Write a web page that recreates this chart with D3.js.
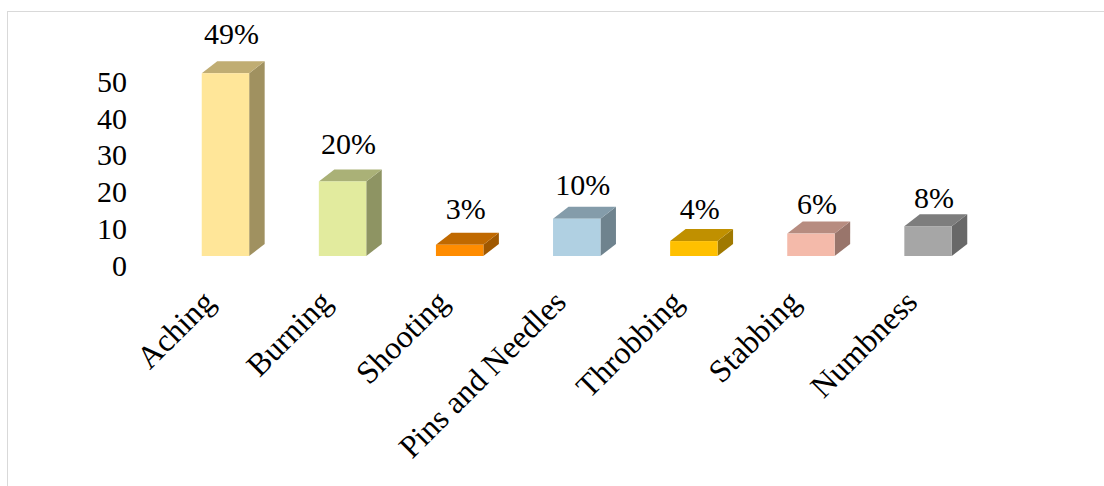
<!DOCTYPE html>
<html>
<head>
<meta charset="utf-8">
<script src="https://cdn.jsdelivr.net/npm/d3@7"></script>
<style>
  html, body { margin: 0; padding: 0; background: #ffffff; }
  svg { display: block; }
  text { font-family: "Times New Roman", "Liberation Serif", serif; fill: #000; }
</style>
</head>
<body>
<div id="chart"></div>
<script>
// Pain types and share of respondents (%)
const categories = ["Aching", "Burning", "Shooting", "Pins and Needles", "Throbbing", "Stabbing", "Numbness"];
const values = [49, 20, 3, 10, 4, 6, 8];
const barColors = ["#FFE699", "#E2EB9E", "#FF8C00", "#B0D0E2", "#FFC000", "#F4BAAA", "#A6A6A6"];
const yTicks = [0, 10, 20, 30, 40, 50];

const W = 1104, H = 486;
const depthX = 15.5, depthY = 12;   // 3D extrusion offsets

const svg = d3.select("#chart").append("svg")
  .attr("width", W).attr("height", H);

// chart frame
svg.append("rect")
  .attr("x", 7.5).attr("y", 11.5)
  .attr("width", W + 20).attr("height", H + 20)
  .attr("fill", "none").attr("stroke", "#d9d9d9").attr("stroke-width", 1);

const x = d3.scaleBand()
  .domain(categories)
  .range([166.9, 986.6])
  .paddingInner(0.595)
  .paddingOuter(0.2975);

// bar heights (front face)
const y = d3.scaleLinear().domain([0, 50]).range([256, 69.5]);
// value axis labels sit on the back wall
const yAxisScale = d3.scaleLinear().domain([0, 50]).range([265, 81]);

const axis = svg.append("g")
  .attr("transform", "translate(127,0)")
  .call(d3.axisLeft(yAxisScale).tickValues(yTicks).tickSize(0).tickPadding(0));
axis.select(".domain").remove();
axis.selectAll("text")
  .attr("font-size", 30)
  .attr("font-family", "'Times New Roman', 'Liberation Serif', serif")
  .attr("fill", "#000")
  .attr("dy", "0.34em");

const data = categories.map((c, i) => ({ c, v: values[i], color: barColors[i], i }));

const bars = svg.append("g").selectAll("g").data(data).join("g");

// side face
bars.append("path")
  .attr("fill", d => d3.rgb(d.color).darker(1.3))
  .attr("d", d => {
    const x1 = x(d.c) + x.bandwidth(), yt = y(d.v), yb = y(0);
    return `M${x1},${yt}L${x1 + depthX},${yt - depthY}L${x1 + depthX},${yb - depthY}L${x1},${yb}Z`;
  });

// top face
bars.append("path")
  .attr("fill", d => d3.rgb(d.color).darker(0.8))
  .attr("d", d => {
    const x0 = x(d.c), x1 = x0 + x.bandwidth(), yt = y(d.v);
    return `M${x0},${yt}L${x0 + depthX},${yt - depthY}L${x1 + depthX},${yt - depthY}L${x1},${yt}Z`;
  });

// front face
bars.append("rect")
  .attr("x", d => x(d.c))
  .attr("y", d => y(d.v))
  .attr("width", x.bandwidth())
  .attr("height", d => y(0) - y(d.v))
  .attr("fill", d => d.color);

// value labels
bars.append("text")
  .attr("text-anchor", "middle")
  .attr("font-size", 30)
  .attr("x", d => x(d.c) + x.bandwidth() / 2 + 6)
  .attr("y", d => y(d.v) - 29 + 1.8 * d.i)
  .text(d => d.v + "%");

// category labels
svg.append("g").selectAll("text").data(data).join("text")
  .attr("text-anchor", "end")
  .attr("font-size", 32)
  .attr("transform", d => `translate(${x(d.c) + x.bandwidth() / 2 - 9},304) rotate(-45)`)
  .text(d => d.c);
</script>
</body>
</html>
